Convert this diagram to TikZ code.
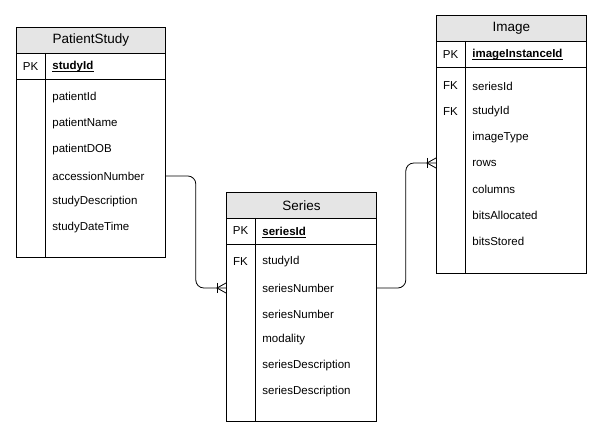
\documentclass[tikz,border=0pt]{standalone}
\usepackage{fontspec}
\setmainfont{Liberation Sans}
\begin{document}
\begin{tikzpicture}[x=1pt,y=-1pt,
  line width=0.8pt,
  hdr/.style={draw, fill=black!10, anchor=north west, inner sep=0pt,
    font=\fontsize{13.5}{15}\selectfont},
  tbl/.style={draw, anchor=north west, inner sep=0pt},
  keytxt/.style={anchor=center, inner sep=0pt, font=\fontsize{11.5}{13}\selectfont},
  fld/.style={anchor=west, inner sep=0pt, font=\fontsize{11.5}{13}\selectfont},
  pkfld/.style={fld, font=\fontsize{11.5}{13}\selectfont\bfseries},
  conn/.style={rounded corners=8pt, line width=0.8pt},
  foot/.style={line width=0.8pt}
]
\useasboundingbox (0,0) rectangle (611,438);

% ---------- PatientStudy ----------
\node[hdr, minimum width=149pt, minimum height=26pt] (psH) at (16,27) {PatientStudy};
\node[tbl, minimum width=149pt, minimum height=204pt] (psB) at (16,53) {};
\draw ([yshift=-26pt]psB.north west) -- ([yshift=-26pt]psB.north east);
\draw ([xshift=29pt]psB.north west) -- ([xshift=29pt]psB.south west);
\node[keytxt] (psPK) at (30.5,67) {PK};
\node[pkfld] (psId) at (52,67) {studyId};
\node[fld] (psPat) at (52,98) {patientId};
\node[fld] (psName) at (52,124) {patientName};
\node[fld] (psDob) at (52,150) {patientDOB};
\node[fld] (psAcc) at (52,176) {accessionNumber};
\node[fld] (psDesc) at (52,202) {studyDescription};
\node[fld] (psTime) at (52,228) {studyDateTime};

% ---------- Series ----------
\node[hdr, minimum width=150pt, minimum height=26pt] (srH) at (226,192) {Series};
\node[tbl, minimum width=150pt, minimum height=203pt] (srB) at (226,218) {};
\draw ([yshift=-26pt]srB.north west) -- ([yshift=-26pt]srB.north east);
\draw ([xshift=29pt]srB.north west) -- ([xshift=29pt]srB.south west);
\node[keytxt] (srPK) at (240.5,231) {PK};
\node[pkfld] (srId) at (262,231) {seriesId};
\node[keytxt] (srFK) at (240.5,262) {FK};
\node[fld] (srStudy) at (262,262) {studyId};
\node[fld] (srNum) at (262,288) {seriesNumber};
\node[fld] (srNumB) at (262,314) {seriesNumber};
\node[fld] (srMod) at (262,340) {modality};
\node[fld] (srDesc) at (262,366) {seriesDescription};
\node[fld] (srDescB) at (262,392) {seriesDescription};

% ---------- Image ----------
\node[hdr, minimum width=150pt, minimum height=26pt] (imH) at (436,15) {Image};
\node[tbl, minimum width=150pt, minimum height=232pt] (imB) at (436,41) {};
\draw ([yshift=-26pt]imB.north west) -- ([yshift=-26pt]imB.north east);
\draw ([xshift=29pt]imB.north west) -- ([xshift=29pt]imB.south west);
\node[keytxt] (imPK) at (450.5,55) {PK};
\node[pkfld] (imId) at (472,55) {imageInstanceId};
\node[keytxt] (imFK1) at (450.5,86) {FK};
\node[fld] (imSeries) at (472,86) {seriesId};
\node[keytxt] (imFK2) at (450.5,112) {FK};
\node[fld] (imStudy) at (472,112) {studyId};
\node[fld] (imType) at (472,138) {imageType};
\node[fld] (imRows) at (472,163) {rows};
\node[fld] (imCols) at (472,189) {columns};
\node[fld] (imBA) at (472,215) {bitsAllocated};
\node[fld] (imBS) at (472,241) {bitsStored};

% underlines of the primary keys
\foreach \k in {psId,srId,imId}{
  \draw[line width=0.7pt] ([yshift=-1.8pt]\k.base west) -- ([yshift=-1.8pt]\k.base east);
}

% ---------- relationships ----------
\coordinate (e1) at (srNum.west -| srB.west);
\coordinate (e2) at (imRows.west -| imB.west);
\draw[conn] (psAcc.west -| psB.east) -- ++(30,0) |- (e1);
\draw[conn] (srNum.west -| srB.east) -- ++(29,0) |- (e2);
% one-or-many crow's feet
\foreach \e in {e1,e2}{
  \draw[foot] ([xshift=-9pt,yshift=5pt]\e) -- ([xshift=-9pt,yshift=-5pt]\e);
  \draw[foot] ([yshift=5pt]\e) -- ([xshift=-9pt]\e) -- ([yshift=-5pt]\e);
}
\end{tikzpicture}
\end{document}
